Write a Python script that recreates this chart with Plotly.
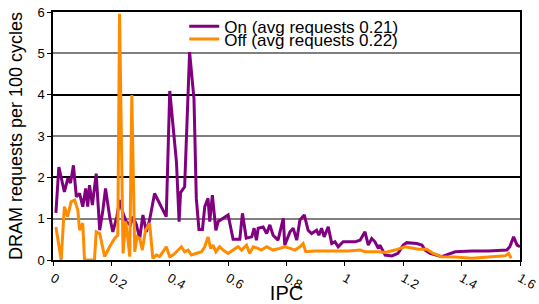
import plotly.graph_objects as go

# IPC (x) and DRAM requests per 100 cycles (y)
on_ipc = [0.01, 0.02, 0.039, 0.051, 0.06, 0.07, 0.08, 0.091, 0.102, 0.112, 0.119, 0.125, 0.135, 0.148,
          0.16, 0.171, 0.18, 0.194, 0.205, 0.219, 0.228, 0.24, 0.251, 0.265, 0.274, 0.286, 0.297, 0.308,
          0.32, 0.331, 0.348, 0.388, 0.40, 0.423, 0.432, 0.437, 0.451, 0.468, 0.483, 0.491, 0.50, 0.512,
          0.52, 0.531, 0.537, 0.546, 0.558, 0.566, 0.60, 0.617, 0.64, 0.649, 0.662, 0.681, 0.689, 0.697,
          0.703, 0.72, 0.732, 0.743, 0.754, 0.771, 0.789, 0.794, 0.812, 0.823, 0.835, 0.846, 0.861, 0.874,
          0.886, 0.903, 0.911, 0.92, 0.929, 0.943, 0.955, 0.966, 0.977, 0.994, 1.017, 1.035, 1.052, 1.069,
          1.08, 1.092, 1.103, 1.115, 1.12, 1.138, 1.161, 1.182, 1.2, 1.212, 1.246, 1.264, 1.275, 1.292,
          1.332, 1.349, 1.378, 1.435, 1.492, 1.555, 1.565, 1.578, 1.59, 1.6]
on_req = [1.14, 2.25, 1.65, 1.98, 1.86, 2.29, 1.53, 1.61, 1.29, 1.73, 1.29, 1.81, 1.33, 2.09,
          0.72, 1.21, 1.73, 1.05, 0.68, 1.05, 1.45, 1.13, 0.93, 0.85, 1.05, 0.85, 0.52, 1.09,
          0.68, 0.97, 1.61, 1.05, 4.09, 2.37, 0.93, 1.63, 1.77, 5.03, 3.9, 1.49, 0.74, 0.74,
          1.29, 1.49, 0.93, 1.57, 0.72, 0.93, 1.09, 0.5, 0.5, 1.13, 0.53, 0.56, 0.77, 0.48,
          0.77, 0.8, 0.64, 0.85, 0.6, 0.48, 1.01, 0.36, 0.68, 0.77, 0.48, 0.97, 1.09, 0.72,
          0.64, 0.72, 0.6, 0.77, 0.56, 0.8, 0.4, 0.44, 0.32, 0.44, 0.44, 0.44, 0.48, 0.68,
          0.36, 0.52, 0.44, 0.28, 0.36, 0.12, 0.1, 0.16, 0.36, 0.42, 0.4, 0.36, 0.24, 0.16,
          0.08, 0.12, 0.2, 0.22, 0.22, 0.24, 0.32, 0.56, 0.36, 0.32]

off_ipc = [0.01, 0.02, 0.028, 0.039, 0.05, 0.062, 0.074, 0.085, 0.091, 0.102, 0.108, 0.142, 0.148, 0.16,
           0.177, 0.194, 0.211, 0.222, 0.228, 0.24, 0.249, 0.257, 0.263, 0.27, 0.28, 0.288, 0.297, 0.306,
           0.317, 0.331, 0.342, 0.354, 0.365, 0.377, 0.388, 0.40, 0.411, 0.423, 0.44, 0.451, 0.463, 0.474,
           0.491, 0.509, 0.52, 0.531, 0.54, 0.548, 0.558, 0.571, 0.583, 0.60, 0.617, 0.634, 0.646, 0.663,
           0.674, 0.686, 0.702, 0.714, 0.732, 0.754, 0.777, 0.794, 0.812, 0.829, 0.846, 0.857, 0.866, 0.897,
           0.949, 1.012, 1.052, 1.069, 1.115, 1.138, 1.172, 1.206, 1.252, 1.281, 1.303, 1.332, 1.378, 1.435,
           1.492, 1.549, 1.561, 1.57]
off_req = [0.8, 0.41, 0.0, 1.29, 1.05, 1.41, 1.45, 1.21, 0.72, 0.89, 0.0, 0.0, 0.68, 0.64,
           0.08, 0.32, 0.52, 0.6, 5.96, 0.16, 0.93, 0.48, 0.08, 3.99, 0.2, 0.56, 0.52, 0.24,
           0.72, 0.89, 0.04, 0.12, 0.08, 0.2, 0.32, 0.08, 0.12, 0.2, 0.32, 0.2, 0.24, 0.12,
           0.16, 0.2, 0.32, 0.56, 0.28, 0.36, 0.2, 0.32, 0.24, 0.16, 0.24, 0.32, 0.24, 0.36,
           0.16, 0.32, 0.28, 0.24, 0.32, 0.24, 0.28, 0.32, 0.28, 0.24, 0.32, 0.4, 0.2, 0.22,
           0.22, 0.22, 0.24, 0.2, 0.2, 0.18, 0.24, 0.32, 0.26, 0.26, 0.16, 0.08, 0.07, 0.04,
           0.07, 0.1, 0.16, 0.04]

on_name = "On (avg requests 0.21)"
off_name = "Off (avg requests 0.22)"

FONT = "Liberation Sans, Arial, Helvetica, sans-serif"

fig = go.Figure()
fig.add_trace(go.Scatter(x=on_ipc, y=on_req, mode="lines", name=on_name, legend="legend",
                         line=dict(color="#800080", width=3)))
fig.add_trace(go.Scatter(x=off_ipc, y=off_req, mode="lines", name=off_name, legend="legend2",
                         line=dict(color="#FF8C00", width=3)))

leg_common = dict(xanchor="left", yanchor="top", bgcolor="rgba(0,0,0,0)",
                  font=dict(size=17, family=FONT), itemwidth=30)

fig.update_layout(
    width=539, height=304,
    margin=dict(l=53, r=19, t=12, b=44, autoexpand=False),
    paper_bgcolor="white", plot_bgcolor="white",
    font=dict(family=FONT, color="black", size=13),
    showlegend=True,
    legend=dict(x=0.281, y=1.013, **leg_common),
    legend2=dict(x=0.281, y=0.962, **leg_common),
    xaxis=dict(range=[0, 1.6], dtick=0.2, tick0=0, showgrid=False, automargin=False,
               showline=True, linecolor="black", linewidth=1.5, mirror=True,
               ticks="outside", ticklen=4, tickcolor="black", tickangle=30,
               tickfont=dict(size=13), zeroline=False,
               title=dict(text="IPC", font=dict(size=20), standoff=6)),
    yaxis=dict(range=[0, 6], dtick=1, tick0=0, showgrid=True, gridcolor="#808080", gridwidth=1.5,
               automargin=False,
               showline=True, linecolor="black", linewidth=1.5, mirror=True,
               ticks="outside", ticklen=4, tickcolor="black", zeroline=False,
               tickfont=dict(size=13),
               title=dict(text="DRAM requests per 100 cycles", font=dict(size=18), standoff=10)),
    yaxis2=dict(range=[0, 6], dtick=2, tick0=0, overlaying="y", showgrid=True, automargin=False,
                gridcolor="black", gridwidth=1.5, showticklabels=False, showline=False,
                zeroline=False, ticks=""),
)
# invisible helper trace to activate the overlay axis (black gridlines at even values)
fig.add_trace(go.Scatter(x=[None], y=[None], yaxis="y2", showlegend=False, hoverinfo="skip"))

fig.write_html("out.html",
               config={"displayModeBar": False},
               post_script="document.body.style.margin='0px';document.body.style.padding='0px';")
